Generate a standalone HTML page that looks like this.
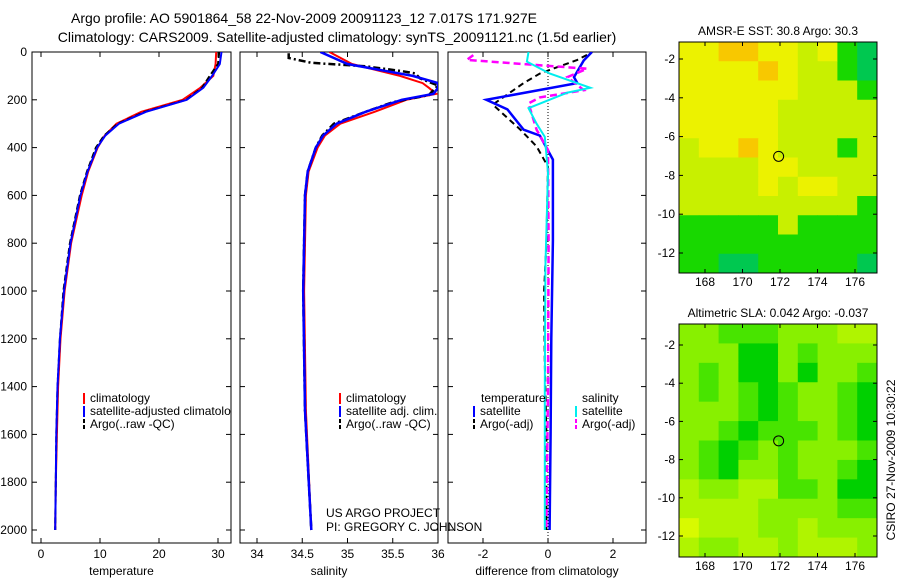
<!DOCTYPE html>
<html><head><meta charset="utf-8"><style>
body{margin:0;background:#fff}
svg{display:block;font-family:"Liberation Sans",sans-serif;font-size:12px}
</style></head><body>
<svg id="c" width="900" height="580" viewBox="0 0 900 580" xmlns="http://www.w3.org/2000/svg">
<text x="304" y="23" text-anchor="middle" font-size="14">Argo profile: AO 5901864_58 22-Nov-2009 20091123_12 7.017S 171.927E</text>
<text x="337" y="42" text-anchor="middle" font-size="14">Climatology: CARS2009. Satellite-adjusted climatology: synTS_20091121.nc (1.5d earlier)</text>
<g id="g"></g>
</svg>
<script>
// ---- profile data ----
const tDepth=[0,50,100,150,200,250,300,350,400,500,600,800,1000,1200,1400,1600,1800,2000];
const tClim=[29.7,29.6,29.2,27.0,24.0,17.0,12.8,10.8,9.6,8.0,6.9,5.1,4.0,3.3,2.9,2.7,2.5,2.4];
const tSat=[30.6,30.3,29.0,27.5,24.7,17.8,13.2,10.9,9.5,7.9,6.7,5.0,3.9,3.2,2.8,2.6,2.5,2.4];
const tArgo=[30.2,30.0,28.6,27.3,24.6,17.6,13.0,10.7,9.3,7.8,6.6,4.9,3.8,3.2,2.8,2.6,2.5,2.4];
const sDepth=[0,50,100,130,150,175,200,250,300,350,400,500,600,1000,1500,2000];
const sClim=[34.8,35.05,35.58,35.83,35.9,35.98,35.65,35.3,34.92,34.75,34.67,34.57,34.54,34.52,34.54,34.6];
const sSat=[34.7,35.0,35.72,36.0,36.0,35.95,35.6,35.2,34.88,34.73,34.65,34.56,34.53,34.51,34.53,34.6];
const aSDepth=[5,25,45,60,80,90,110,140,180,210,250,300,350,400,500,600,1000,1500,2000];
const aSal=[34.35,34.35,34.6,35.2,35.6,35.75,35.8,36.0,35.9,35.5,35.2,34.85,34.72,34.65,34.56,34.53,34.51,34.53,34.6];
const dDepth=[0,35,105,130,200,240,325,350,450,790,1200,1600,2000];
const dTempSat=[1.35,1.1,0.8,0.9,-1.9,-1.25,-0.75,-0.25,0.15,0.15,0.1,0.08,0.05];
const dcDepth=[0,40,90,150,170,235,300,355,505,900,1400,2000];
const dSalSat=[-0.6,-0.65,0.05,1.3,0.6,-0.6,-0.35,-0.1,0,-0.08,-0.1,-0.1];
const dmDepth=[13,33,70,105,160,190,215,325,410,800,1400,2000];
const dSalArgo=[-2.3,-2.5,1.2,0.6,1.1,-0.25,-0.6,-0.35,0,0.02,0,-0.05];
const dkDepth=[12,33,90,130,220,325,395,480,800,1000,1300,1600,2000];
const dTempArgo=[1.2,0.9,-0.25,-0.75,-1.7,-0.85,-0.35,0,-0.05,-0.12,-0.1,-0.05,-0.05];
const depthTicks=[0,200,400,600,800,1000,1200,1400,1600,1800,2000];
const tTicks=[0,10,20,30];
const sTicks=[34,34.5,35,35.5,36];
const sTickLabels=["34","34.5","35","35.5","36"];
const dTicks=[-2,0,2];
const lonTicks=[168,170,172,174,176];
const latTicks=[-2,-4,-6,-8,-10,-12];
// map grids (10 cols x 12 rows), levels
const sstGrid=[
[3,3,4,4,3,3,2,3,1,0],[3,3,3,3,4,3,2,2,1,0],[3,3,3,3,3,3,2,2,2,1],[3,3,3,3,3,2,2,2,2,2],
[3,3,3,3,3,2,2,2,2,2],[2,3,3,4,3,2,2,2,1,2],[2,2,2,2,3,3,2,2,2,2],[2,2,2,2,3,2,3,3,2,2],
[2,2,2,2,2,2,2,2,2,1],[1,1,1,1,1,2,1,1,1,1],[1,1,1,1,1,1,1,1,1,1],[1,1,0,0,1,1,1,1,1,0]];
const slaGrid=[
[2,2,1,1,1,2,2,2,3,3],[2,2,2,0,0,2,1,2,2,2],[2,1,2,0,0,2,0,2,2,1],[2,1,2,1,0,1,2,2,1,0],
[2,2,2,1,0,1,2,2,1,0],[2,2,1,0,1,1,1,2,1,0],[2,1,0,1,2,1,2,2,2,1],[2,1,0,2,2,1,2,2,1,0],
[3,2,2,3,3,1,1,2,0,0],[3,3,3,3,2,2,2,2,1,1],[4,3,3,3,2,2,3,2,2,2],[3,2,2,3,3,2,3,3,3,2]];
const sstColors=["#00c850","#18d800","#c8f000","#ecf200","#f8c800"];
const slaColors=["#00d000","#48e400","#88f000","#b0f400","#d8fa00"];

const NS="http://www.w3.org/2000/svg";
const G=document.getElementById('g');
function mk(tag,attrs,parent){const e=document.createElementNS(NS,tag);for(const k in attrs)e.setAttribute(k,attrs[k]);(parent||G).appendChild(e);return e;}
function txt(x,y,s,anchor,parent){const e=mk('text',{x:x,y:y,'text-anchor':anchor||'start'},parent);e.textContent=s;return e;}

const Y0=52,Y1=543;
const yD=d=>Y0+d*0.239;
const panels=[
 {name:'temperature',x0:32,x1:231,xf:v=>41+v*5.9,ticks:tTicks,labels:tTicks.map(String)},
 {name:'salinity',x0:240,x1:438,xf:v=>257+(v-34)*90.5,ticks:sTicks,labels:sTickLabels},
 {name:'difference',x0:448,x1:646,xf:v=>548+v*32.5,ticks:dTicks,labels:dTicks.map(String)}];
const titles=['temperature','salinity','difference from climatology'];

function line(p,ds,vs,color,w,dash,nm){
  const pts=ds.map((d,i)=>p.xf(vs[i]).toFixed(1)+','+yD(d).toFixed(1)).join(' ');
  const e=mk('polyline',{points:pts,fill:'none',stroke:color,'stroke-width':w,'stroke-dasharray':dash||'none','clip-path':'url(#cp'+p.idx+')'});
  
  
}
const defs=mk('defs',{});
panels.forEach((p,i)=>{
  p.idx=i;
  const cp=mk('clipPath',{id:'cp'+i},defs);
  mk('rect',{x:p.x0,y:Y0,width:p.x1-p.x0,height:Y1-Y0},cp);
  const fr=mk('rect',{x:p.x0,y:Y0,width:p.x1-p.x0,height:Y1-Y0,fill:'#fff',stroke:'#000','stroke-width':1});
  
  
  p.ticks.forEach((t,j)=>{
    const x=p.xf(t);
    mk('line',{x1:x,x2:x,y1:Y0,y2:Y0+5,stroke:'#000'});
    mk('line',{x1:x,x2:x,y1:Y1,y2:Y1-5,stroke:'#000'});
    const l=txt(x,558,p.labels[j],'middle');
    
    
  });
  depthTicks.forEach(d=>{
    const y=yD(d);
    mk('line',{x1:p.x0,x2:p.x0+5,y1:y,y2:y,stroke:'#000'});
    mk('line',{x1:p.x1,x2:p.x1-5,y1:y,y2:y,stroke:'#000'});
    if(i===0){const l=txt(27,y+4,String(d),'end');
      
      }
  });
  const at=txt((p.x0+p.x1)/2-(i==2?0:10),575,titles[i],'middle');
  
  
});
const P=panels;
line(P[0],tDepth,tClim,'#f00',2,null,'temperature-climatology-line');
line(P[0],tDepth,tArgo,'#000',2,'6,3','temperature-argo-line');
line(P[0],tDepth,tSat,'#00f',2,null,'temperature-satellite-line');
line(P[1],sDepth,sClim,'#f00',2,null,'salinity-climatology-line');
line(P[1],aSDepth,aSal,'#000',2.5,'7,3,2,3','salinity-argo-line');
line(P[1],sDepth,sSat,'#00f',2.5,null,'salinity-satellite-line');
mk('line',{x1:548,x2:548,y1:Y0,y2:Y1,stroke:'#000','stroke-dasharray':'1,2'});
line(P[2],dkDepth,dTempArgo,'#000',2,'6,4','temp-argo-diff-line');
line(P[2],dDepth,dTempSat,'#00f',2.5,null,'temp-satellite-diff-line');
line(P[2],dmDepth,dSalArgo,'#f0f',2.5,'7,4','sal-argo-diff-line');
line(P[2],dcDepth,dSalSat,'#0ee',2,null,'sal-satellite-diff-line');

function leg(x,y,c,s,nm,dash,parent){
  mk('line',{x1:x,x2:x,y1:y-9,y2:y+2,stroke:c,'stroke-width':2,'stroke-dasharray':dash||'none'},parent);
  const t=txt(x+6,y,s,'start',parent);
  
  
}
const lc=mk('clipPath',{id:'lc'},defs);mk('rect',{x:32,y:0,width:199,height:580},lc);
const lg=mk('g',{'clip-path':'url(#lc)'});
leg(84,402,'#f00','climatology','legend-climatology',null,lg);
leg(84,415,'#00f','satellite-adjusted climatology','legend-satellite',null,lg);
leg(84,428,'#000','Argo(..raw -QC)','legend-argo','4,2',lg);
leg(340,402,'#f00','climatology','legend2-climatology');
leg(340,415,'#00f','satellite adj. clim.','legend2-satellite');
leg(340,428,'#000','Argo(..raw -QC)','legend2-argo','4,2');
let t=txt(481,402,'temperature');
t=txt(582,402,'salinity');
leg(474,415,'#00f','satellite','legend3-temp-satellite');
leg(474,428,'#000','Argo(-adj)','legend3-temp-argo','4,2');
leg(576,415,'#0ee','satellite','legend3-sal-satellite');
leg(576,428,'#f0f','Argo(-adj)','legend3-sal-argo','4,2');
t=txt(326,517,'US ARGO PROJECT');
t=txt(326,531,'PI: GREGORY C. JOHNSON');

// ---- maps ----
function map(top,bot,grid,colors,title,nm,latA,latB){
  const x0=679,x1=877;
  const lonX=l=>780+(l-172)*18.75;
  const latY=l=>latA.y+(l-latA.l)*(latB.y-latA.y)/(latB.l-latA.l);
  const cw=(x1-x0)/10,ch=(bot-top)/12;
  grid.forEach((row,r)=>row.forEach((v,c)=>{
    const e=mk('rect',{x:x0+c*cw,y:top+r*ch,width:cw+0.5,height:ch+0.5,fill:colors[v]});
    
    
  }));
  const f=mk('rect',{x:x0,y:top,width:x1-x0,height:bot-top,fill:'none',stroke:'#000'});
  
  
  lonTicks.forEach(l=>{const x=lonX(l);
    mk('line',{x1:x,x2:x,y1:top,y2:top+4,stroke:'#000'});mk('line',{x1:x,x2:x,y1:bot,y2:bot-4,stroke:'#000'});
    const e=txt(x,bot+13,String(l),'middle');});
  latTicks.forEach(l=>{const y=latY(l);
    mk('line',{x1:x0,x2:x0+4,y1:y,y2:y,stroke:'#000'});mk('line',{x1:x1,x2:x1-4,y1:y,y2:y,stroke:'#000'});
    const e=txt(x0-4,y+4,String(l),'end');});
  const c=mk('circle',{cx:lonX(171.927),cy:latY(-7.017),r:5,fill:'none',stroke:'#000'});
  
  const tt=txt(778,top-7,title,'middle');
}
map(42,273,sstGrid,sstColors,'AMSR-E SST: 30.8  Argo: 30.3','sst-map',{l:-2,y:59},{l:-12,y:253});
map(324,557,slaGrid,slaColors,'Altimetric SLA: 0.042  Argo: -0.037','sla-map',{l:-2,y:345},{l:-12,y:536});
t=txt(0,0,'CSIRO 27-Nov-2009 10:30:22','middle');
t.setAttribute('transform','translate(895,460) rotate(-90)');

</script>
</body></html>
